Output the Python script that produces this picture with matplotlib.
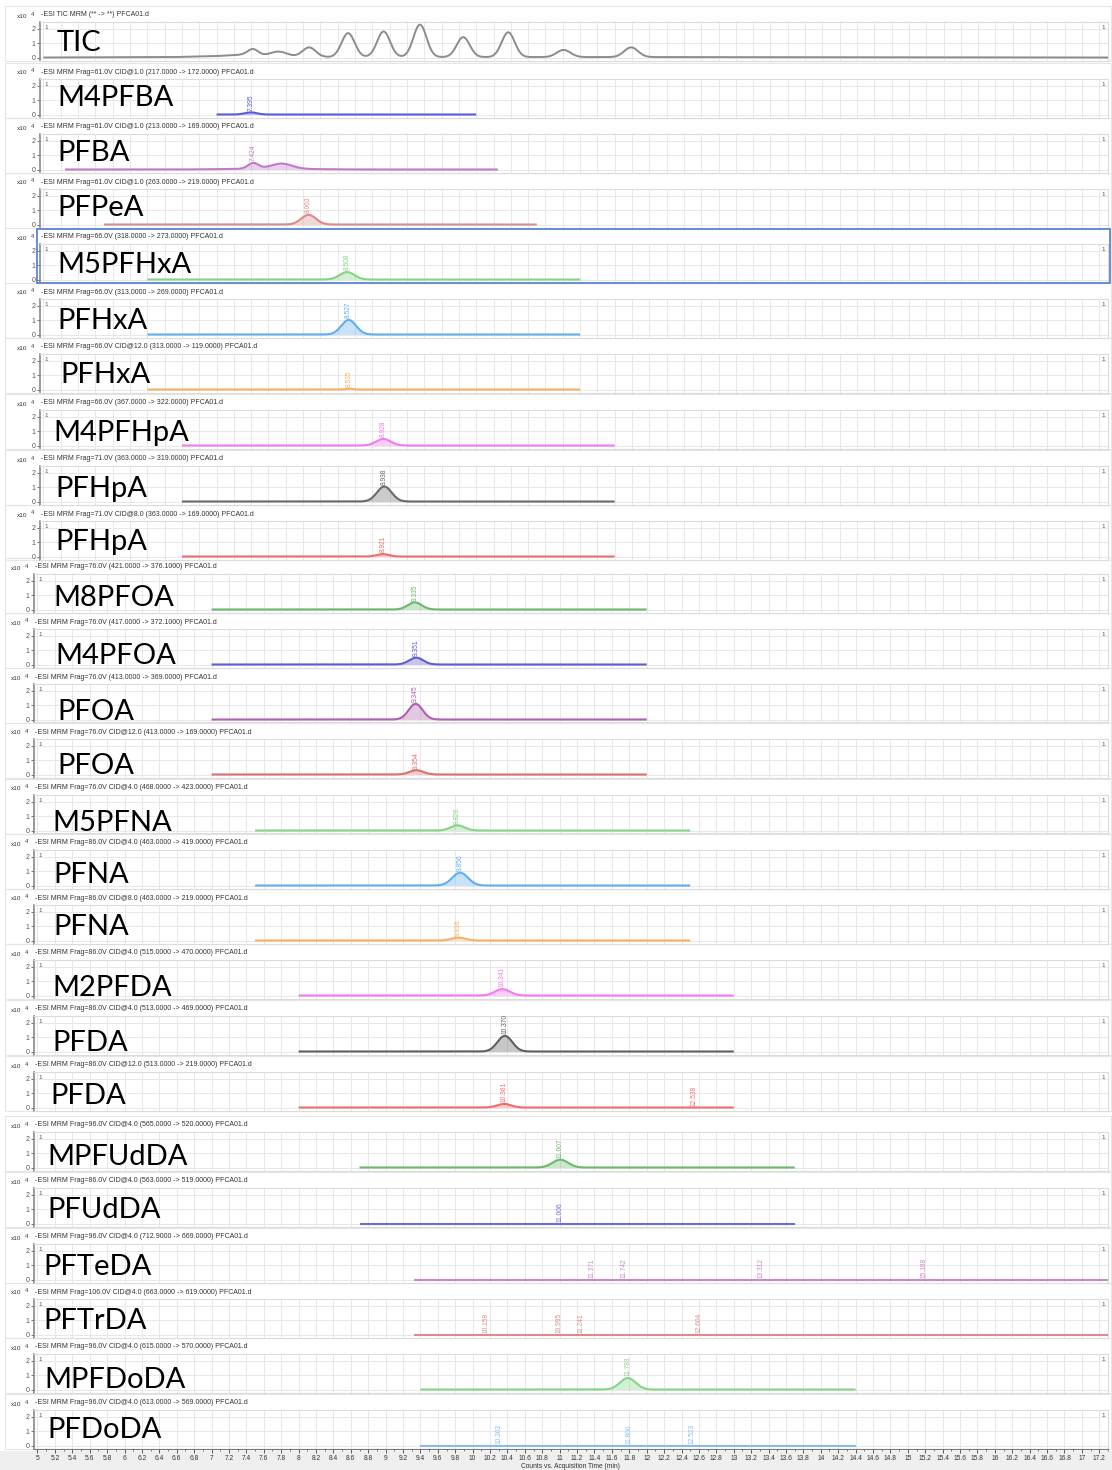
import matplotlib.pyplot as plt
import numpy as np
from matplotlib.patches import Rectangle

plt.rcParams['font.family'] = ['Liberation Sans', 'DejaVu Sans']

W, H = 1112, 1470

names = ['TIC', 'M4PFBA', 'PFBA', 'PFPeA', 'M5PFHxA', 'PFHxA', 'PFHxA', 'M4PFHpA',
         'PFHpA', 'PFHpA', 'M8PFOA', 'M4PFOA', 'PFOA', 'PFOA', 'M5PFNA', 'PFNA',
         'PFNA', 'M2PFDA', 'PFDA', 'PFDA', 'MPFUdDA', 'PFUdDA', 'PFTeDA', 'PFTrDA',
         'MPFDoDA', 'PFDoDA']

headers = [
    '-ESI TIC MRM (** -> **) PFCA01.d',
    '-ESI MRM Frag=61.0V CID@1.0 (217.0000 -> 172.0000) PFCA01.d',
    '-ESI MRM Frag=61.0V CID@1.0 (213.0000 -> 169.0000) PFCA01.d',
    '-ESI MRM Frag=61.0V CID@1.0 (263.0000 -> 219.0000) PFCA01.d',
    '-ESI MRM Frag=66.0V (318.0000 -> 273.0000) PFCA01.d',
    '-ESI MRM Frag=66.0V (313.0000 -> 269.0000) PFCA01.d',
    '-ESI MRM Frag=66.0V CID@12.0 (313.0000 -> 119.0000) PFCA01.d',
    '-ESI MRM Frag=66.0V (367.0000 -> 322.0000) PFCA01.d',
    '-ESI MRM Frag=71.0V (363.0000 -> 319.0000) PFCA01.d',
    '-ESI MRM Frag=71.0V CID@8.0 (363.0000 -> 169.0000) PFCA01.d',
    '-ESI MRM Frag=76.0V (421.0000 -> 376.1000) PFCA01.d',
    '-ESI MRM Frag=76.0V (417.0000 -> 372.1000) PFCA01.d',
    '-ESI MRM Frag=76.0V (413.0000 -> 369.0000) PFCA01.d',
    '-ESI MRM Frag=76.0V CID@12.0 (413.0000 -> 169.0000) PFCA01.d',
    '-ESI MRM Frag=76.0V CID@4.0 (468.0000 -> 423.0000) PFCA01.d',
    '-ESI MRM Frag=86.0V CID@4.0 (463.0000 -> 419.0000) PFCA01.d',
    '-ESI MRM Frag=86.0V CID@8.0 (463.0000 -> 219.0000) PFCA01.d',
    '-ESI MRM Frag=86.0V CID@4.0 (515.0000 -> 470.0000) PFCA01.d',
    '-ESI MRM Frag=86.0V CID@4.0 (513.0000 -> 469.0000) PFCA01.d',
    '-ESI MRM Frag=86.0V CID@12.0 (513.0000 -> 219.0000) PFCA01.d',
    '-ESI MRM Frag=96.0V CID@4.0 (565.0000 -> 520.0000) PFCA01.d',
    '-ESI MRM Frag=86.0V CID@4.0 (563.0000 -> 519.0000) PFCA01.d',
    '-ESI MRM Frag=96.0V CID@4.0 (712.9000 -> 669.0000) PFCA01.d',
    '-ESI MRM Frag=106.0V CID@4.0 (663.0000 -> 619.0000) PFCA01.d',
    '-ESI MRM Frag=96.0V CID@4.0 (615.0000 -> 570.0000) PFCA01.d',
    '-ESI MRM Frag=96.0V CID@4.0 (613.0000 -> 569.0000) PFCA01.d',
]

colors = ['#8c8c8c', '#5c5ce0', '#c27ac8', '#d88c8c', '#86d486', '#62aef2', '#f4b266',
          '#f27af2', '#6a6a6a', '#f26c6c', '#6cb86c', '#5c5cd8', '#b060b0', '#d87070',
          '#86d486', '#62aef2', '#f4b266', '#f27af2', '#606060', '#f26c6c', '#6cb86c',
          '#6c6cd8', '#c888cc', '#d88c8c', '#86d486', '#86bcf2']

# acquisition windows (min)
win_start = [5.0, 7.0, 5.25, 5.7, 6.2, 6.2, 6.2, 6.6, 6.6, 6.6, 7.0, 7.0, 7.0, 7.0,
             7.5, 7.5, 7.5, 8.0, 8.0, 8.0, 8.7, 8.7, 9.33, 9.33, 9.4, 9.4]
win_end = [17.3, 10.0, 10.25, 10.7, 11.2, 11.2, 11.2, 11.6, 11.6, 11.6, 12.0, 12.0,
           12.0, 12.0, 12.5, 12.5, 12.5, 13.0, 13.0, 13.0, 13.7, 13.7, 17.3, 17.3,
           14.4, 14.4]

# peaks: retention time, height (x10^4 counts), width (sigma, min)
peak_rt = [[7.42, 7.72, 8.07, 8.52, 8.93, 9.35, 9.85, 10.37, 11.01, 11.79],
           [7.395], [7.424, 7.75, 7.6], [8.063], [8.508], [8.527], [8.535], [8.928],
           [8.938], [8.921], [9.335], [9.351], [9.345], [9.354], [9.826], [9.856],
           [9.836], [10.341], [10.370], [10.361], [11.007], [], [], [], [11.783], []]
peak_h = [[0.42, 0.30, 0.65, 1.68, 1.80, 2.28, 1.40, 1.74, 0.50, 0.68],
          [0.15], [0.40, 0.36, 0.06], [0.68], [0.52], [1.02], [0.06], [0.46],
          [1.05], [0.17], [0.50], [0.48], [1.10], [0.30], [0.36], [0.90],
          [0.20], [0.45], [1.10], [0.25], [0.55], [], [], [], [0.80], []]
peak_w = [[0.06, 0.09, 0.075, 0.075, 0.075, 0.075, 0.075, 0.075, 0.08, 0.08],
          [0.07], [0.06, 0.12, 0.45], [0.085], [0.085], [0.085], [0.04], [0.085],
          [0.085], [0.07], [0.08], [0.08], [0.08], [0.08], [0.08], [0.09],
          [0.08], [0.085], [0.085], [0.08], [0.09], [], [], [], [0.09], []]

# TIC baseline drift
tic_base_t = [5.0, 6.5, 7.0, 7.3, 7.9, 8.3, 12.3, 17.3]
tic_base_y = [0.0, 0.03, 0.10, 0.20, 0.08, 0.03, 0.03, 0.0]

# retention-time annotations
rt_labels = [[], ['7.395'], ['7.424'], ['8.063'], ['8.508'], ['8.527'], ['8.535'],
             ['8.928'], ['8.938'], ['8.921'], ['9.335'], ['9.351'], ['9.345'],
             ['9.354'], ['9.826'], ['9.856'], ['9.836'], ['10.341'], ['10.370'],
             ['10.361', '12.538'], ['11.007'], ['11.006'],
             ['11.371', '11.742', '13.312', '15.188'],
             ['10.158', '10.995', '11.241', '12.604'], ['11.783'],
             ['10.303', '11.800', '12.523']]

# ---- layout (pixels) ----
header_y = [15, 72, 127, 182, 237, 292, 347, 403, 459, 514, 567, 622, 677, 732, 788,
            843, 898, 953, 1009, 1065, 1125, 1181, 1237, 1292, 1347, 1403]
name_x = [57, 57, 57, 57, 57, 57, 60, 53, 55, 55, 53, 55, 57, 57, 52, 53, 53, 52, 52,
          50, 47, 47, 43, 43, 44, 47]
name_dy = [28, 26, 26, 26, 28, 29, 28, 30, 30, 28, 31, 34, 35, 34, 35, 32, 29, 35, 34,
           31, 32, 29, 30, 29, 33, 27]
RIGHT = 1108
XMIN, XMAX = 4.96, 17.3
YMIN, YMAX = -0.21, 2.49


def fx(x):
    return x / W


def fy(y):
    return 1 - y / H


fig = plt.figure(figsize=(W / 100, H / 100), dpi=100)
fig.patch.set_facecolor('white')

# gray strip under the time axis
fig.patches.append(Rectangle((0, 0), 1, fy(1451), transform=fig.transFigure,
                             facecolor='#efefef', edgecolor='none', zorder=-5))

grid_ticks = np.round(np.arange(5.0, 17.21, 0.2), 1)
n = len(names)
axes = []
for i in range(n):
    hy = header_y[i]
    left = 40 if i < 10 else 34
    top = hy + 7
    bot = hy + 45.5
    ax = fig.add_axes([fx(left), fy(bot), fx(RIGHT - left), (bot - top) / H])
    axes.append(ax)

    # panel frame
    fig.patches.append(Rectangle((fx(5), fy(hy - 9 + 55)), fx(1106), 55 / H,
                                 transform=fig.transFigure, facecolor='none',
                                 edgecolor='#e6e6e6', lw=0.8, zorder=-1))

    ax.set_xlim(XMIN, XMAX)
    ax.set_ylim(YMIN, YMAX)
    ax.set_xticks(grid_ticks)
    ax.set_yticks([0, 1, 2])
    ax.set_yticklabels(['0', '1', '2'], fontsize=5, color='#333333')
    ax.grid(True, color='#e8e8e8', lw=0.7)
    ax.set_axisbelow(True)
    for side in ['top', 'right', 'bottom']:
        ax.spines[side].set_color('#dcdcdc')
        ax.spines[side].set_linewidth(0.8)
    ax.spines['left'].set_color('#8a8a8a')
    ax.spines['left'].set_linewidth(1.2)
    ax.tick_params(axis='y', length=2, width=0.6, pad=1, colors='#555555')
    if i < n - 1:
        ax.tick_params(axis='x', length=0, labelbottom=False)

    # trace
    t = np.linspace(win_start[i], win_end[i], 900)
    y = np.zeros_like(t)
    if i == 0:
        y += np.interp(t, tic_base_t, tic_base_y)
    for rt, h, w in zip(peak_rt[i], peak_h[i], peak_w[i]):
        y += h * np.exp(-0.5 * ((t - rt) / w) ** 2)
    if i > 0:
        ax.fill_between(t, 0, y, color=colors[i], alpha=0.35, lw=0)
    ax.plot(t, y, color=colors[i], lw=1.5 if i else 1.4, solid_capstyle='butt')

    for lab in rt_labels[i]:
        v = float(lab)
        yv = np.interp(v, t, y)
        ax.text(v, yv + 0.12, lab, rotation=90, ha='center', va='bottom',
                fontsize=4.8, color=colors[i])

    # small "1" markers
    ax.text(0.004, 0.93, '1', transform=ax.transAxes, fontsize=4.5, color='#555555',
            ha='left', va='top')
    ax.text(0.997, 0.93, '1', transform=ax.transAxes, fontsize=4.5, color='#555555',
            ha='right', va='top')

    # header line and scale
    fig.text(fx(left + 1), fy(hy), headers[i], fontsize=5.0, color='#333333',
             va='center', ha='left')
    fig.text(fx(left - 23), fy(hy + 1), 'x10', fontsize=4.6, color='#333333',
             va='center', ha='left')
    fig.text(fx(left - 9), fy(hy - 1), '4', fontsize=4.0, color='#333333',
             va='center', ha='left')

    # compound name
    fig.text(fx(name_x[i]), fy(hy + name_dy[i]), names[i], fontsize=21,
             family=['Lato', 'DejaVu Sans'], color='black', va='center', ha='left')

# selected panel outline (M5PFHxA)
sel = 4
fig.patches.append(Rectangle((fx(37), fy(header_y[sel] - 8 + 54)), fx(1073), 54 / H,
                             transform=fig.transFigure, facecolor='none',
                             edgecolor='#5a86d2', lw=1.3, zorder=5))

# bottom time axis
axb = axes[-1]
axb.set_xticklabels([f'{v:g}' for v in grid_ticks], fontsize=4.8, color='#333333')
axb.set_xticks(np.round(np.arange(5.0, 17.31, 0.1), 1), minor=True)
axb.tick_params(axis='x', which='major', length=3, width=0.6, pad=2, colors='#444444')
axb.tick_params(axis='x', which='minor', length=1.5, width=0.5, colors='#444444')
axb.tick_params(axis='x', labelcolor='#333333')
axb.spines['bottom'].set_color('#777777')
fig.text(fx(570), fy(1466), 'Counts vs. Acquisition Time (min)', fontsize=4.8,
         color='#333333', ha='center', va='center')

fig.savefig('out.png', dpi=100)
